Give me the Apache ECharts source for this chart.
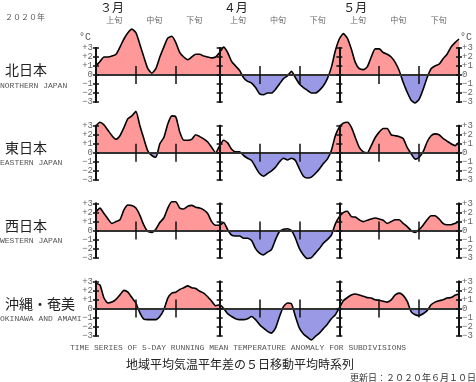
<!DOCTYPE html>
<html><head><meta charset="utf-8">
<script src="https://cdn.jsdelivr.net/npm/echarts@6/dist/echarts.min.js"></script>
<style>html,body{margin:0;padding:0;background:#fff}#c{width:476px;height:382px}</style>
</head><body><div id="c"></div>
<script>
// ---- data ----
const regionNames = ['北日本', '東日本', '西日本', '沖縄・奄美'];
const regionNamesEn = ['NORTHERN JAPAN', 'EASTERN JAPAN', 'WESTERN JAPAN', 'OKINAWA AND AMAMI'];
const monthNames = ['３月', '４月', '５月'];
const monthStarts = [0, 31, 61];            // day index (0 = Mar 1)
const decadeNames = ['上旬', '中旬', '下旬', '上旬', '中旬', '下旬', '上旬', '中旬', '下旬'];
const decadeCenters = [4.6, 14.6, 24.6, 35.6, 45.6, 55.6, 65.7, 75.8, 85.9];
const decadeTicks = [10, 20, 41, 51, 71, 81];
const yTickValues = [-3, -2, -1, 0, 1, 2, 3];
const yearLabel = '２０２０年';
const titleEn = 'TIME SERIES OF 5-DAY RUNNING MEAN TEMPERATURE ANOMALY FOR SUBDIVISIONS';
const titleJa = '地域平均気温平年差の５日移動平均時系列';
const updated = '更新日：２０２０年６月１０日';

// 5-day running mean anomaly (°C), Mar 1 .. May 31
const north = [1.0,1.5,2.0,2.0,2.1,2.3,3.1,4.0,4.7,5.1, 4.7,3.4,2.0,0.7,0.2,0.7,2.0,3.1,4.1,4.3,
  3.6,2.5,2.0,1.7,2.0,2.3,2.3,2.1,2.0,1.9, 2.0,2.5,3.1,2.5,1.5,1.0,0.5,-0.3,-0.7,-0.9,
  -1.4,-2.1,-2.2,-2.0,-2.0,-1.6,-1.0,-0.4,-0.1,0.4, -0.3,-1.0,-1.4,-1.7,-2.0,-2.0,-1.7,-1.2,-0.4,0.85,
  2.7,4.0,4.6,4.1,2.9,1.4,0.7,0.6,0.9,2.0, 2.9,2.9,2.5,2.3,2.0,1.4,0.5,-0.8,-1.9,-2.8,
  -3.1,-2.7,-1.6,-0.3,0.7,1.0,1.2,1.8,2.3,3.1, 3.6,4.0];
const east = [3.0,3.4,3.1,2.5,1.9,1.5,1.9,2.8,3.8,4.1, 4.6,3.0,1.55,0.2,-0.3,-0.5,1.0,1.7,3.2,4.1,
  4.0,2.3,1.4,1.4,1.5,2.0,1.8,1.55,1.2,0.6, 0.0,0.8,1.4,1.1,0.4,0.1,0.1,-0.3,-0.6,-0.85,
  -1.6,-2.3,-2.6,-2.3,-2.0,-1.6,-1.0,-0.6,-0.8,-0.6, -0.85,-1.8,-2.6,-2.8,-2.7,-2.3,-1.8,-1.2,-0.7,0.25,
  1.9,2.85,3.3,3.4,2.85,1.7,0.6,0.1,0.0,0.8, 1.7,2.3,2.7,2.7,2.0,1.9,1.8,1.6,0.6,-0.1,
  -0.7,-0.5,0.1,1.2,1.9,2.1,2.0,1.6,1.3,1.0, 0.8,1.2];
const west = [2.1,2.5,1.9,1.3,0.8,1.0,1.2,2.3,2.85,2.8, 2.5,1.7,0.6,-0.1,-0.2,0.15,0.9,1.4,2.5,3.2,
  3.2,2.5,2.4,2.7,2.8,2.6,2.5,2.3,1.9,1.0, 0.6,0.6,0.9,0.1,-0.5,-0.6,-0.6,-0.85,-0.85,-1.1,
  -2.0,-2.5,-2.7,-2.4,-2.1,-1.0,-0.1,0.15,0.2,0.0, -0.85,-2.0,-2.7,-3.1,-3.0,-2.5,-2.0,-1.4,-1.0,-0.5,
  0.75,1.55,2.0,2.15,1.55,1.5,1.2,1.0,1.15,1.3, 1.4,1.3,1.15,0.8,1.0,1.2,1.2,0.8,0.45,0.0,
  -0.2,0.1,0.6,1.2,1.65,1.65,1.3,0.8,0.65,0.65, 0.8,1.0];
const okinawa = [2.8,2.6,1.15,0.6,0.7,1.0,1.5,2.0,1.8,1.2, 0.6,-0.5,-1.2,-1.25,-1.25,-1.25,-0.9,-0.15,1.15,1.7,
  1.8,2.1,2.3,2.5,2.3,2.2,1.9,1.7,1.3,0.8, 0.3,0.4,0.0,-0.6,-0.9,-1.15,-1.25,-1.25,-1.15,-0.9,
  -1.25,-1.8,-2.2,-2.55,-2.75,-2.2,-0.9,0.2,0.6,0.5, -0.9,-2.2,-2.85,-3.2,-3.5,-3.1,-2.75,-2.25,-1.75,-1.15,
  -0.7,0.05,0.85,1.2,1.5,1.6,1.5,1.35,1.2,1.15, 0.95,0.9,0.8,0.7,0.95,1.5,1.7,1.45,0.8,-0.35,
  -0.7,-0.8,-0.6,-0.25,0.4,0.7,0.85,0.95,1.15,1.2, 1.45,1.6];
const regionValues = [north, east, west, okinawa];

// ---- layout / style ----
const W = 476, H = 382;
const GRID_LEFT = 96, GRID_RIGHT = 17, GRID_H = 54, GRID_TOP0 = 48, GRID_STEP = 77.8;
const plotW = W - GRID_LEFT - GRID_RIGHT;
const DAY_MAX = north.length - 1;
const POS = '#ff9999', NEG = '#9999e6';
const JA = 'Noto Sans CJK JP', MONO = 'Liberation Mono';

const yFmt = v => v > 0 ? '+' + v : (v < 0 ? '−' + (-v) : '0');

const grids = [], xAxes = [], yAxes = [], series = [], graphics = [];

function yAxis(gi, position, offset, inside, showLabel, extra) {
  return Object.assign({
    type: 'value', gridIndex: gi, min: -3, max: 3, interval: 1, position, offset, z: 5, silent: true,
    axisLine: { show: true, onZero: false, lineStyle: { color: '#111', width: 2 } },
    axisTick: { show: true, inside, length: 3, lineStyle: { color: '#111', width: 1.5 } },
    axisLabel: { show: showLabel, margin: 3, formatter: yFmt, interval: 0, customValues: yTickValues,
      showMinLabel: true, showMaxLabel: true, hideOverlap: false,
      fontFamily: MONO, fontSize: 9, lineHeight: 9, color: '#666' },
    splitLine: { show: false }
  }, extra || {});
}
function xAxis(gi, inside) {
  return {
    type: 'value', gridIndex: gi, min: 0, max: DAY_MAX, position: 'bottom', z: 5, silent: true,
    axisLine: { show: true, onZero: true, lineStyle: { color: '#333', width: 2 } },
    axisTick: { show: true, customValues: decadeTicks, inside, length: 9, lineStyle: { color: '#111', width: 1.5 } },
    axisLabel: { show: false }, splitLine: { show: false }
  };
}

regionValues.forEach((vals, i) => {
  const top = GRID_TOP0 + i * GRID_STEP;
  grids.push({ left: GRID_LEFT, right: GRID_RIGHT, top, height: GRID_H });
  const xi = xAxes.length;
  xAxes.push(xAxis(i, true), xAxis(i, false));
  const yi = yAxes.length;
  const nameL = i === 0 ? { name: '°C', nameLocation: 'end', nameGap: 6,
    nameTextStyle: { fontFamily: MONO, fontSize: 10, color: '#555', align: 'right', padding: [0, 5, 0, 0] } } : {};
  const nameR = i === 0 ? { name: '°C', nameLocation: 'end', nameGap: 6,
    nameTextStyle: { fontFamily: MONO, fontSize: 10, color: '#555', align: 'left', padding: [0, 0, 0, 1] } } : {};
  yAxes.push(yAxis(i, 'left', 0, false, true, nameL));
  yAxes.push(yAxis(i, 'left', 0, true, false));
  yAxes.push(yAxis(i, 'right', 0, false, true, nameR));
  yAxes.push(yAxis(i, 'right', 0, true, false));
  monthStarts.slice(1).forEach(m => {
    const off = -(m / DAY_MAX) * plotW;
    yAxes.push(yAxis(i, 'left', off, false, false));
    yAxes.push(yAxis(i, 'left', off, true, false));
  });
  series.push({
    type: 'line', xAxisIndex: xi, yAxisIndex: yi, data: vals.map((v, d) => [d, v]),
    showSymbol: false, symbol: 'none', smooth: 0.2, clip: false, silent: true, z: 2,
    lineStyle: { color: '#000', width: 1.6 }, areaStyle: { opacity: 1 }
  });
  const zeroY = top + GRID_H / 2;
  graphics.push({ type: 'text', x: 5, y: zeroY - 5, style: { text: regionNames[i], fontFamily: JA, fontSize: 14, fill: '#222', align: 'left', verticalAlign: 'middle' } });
  graphics.push({ type: 'text', x: 0, y: zeroY + 10.5, style: { text: regionNamesEn[i], fontFamily: MONO, fontSize: 8, fill: '#555', align: 'left', verticalAlign: 'middle' } });
});

// top label axes on the first grid
xAxes.push({
  type: 'value', gridIndex: 0, min: 0, max: DAY_MAX, position: 'top', silent: true,
  axisLine: { show: false, onZero: false }, axisTick: { show: false }, splitLine: { show: false },
  axisLabel: { show: true, customValues: monthStarts, showMinLabel: true, showMaxLabel: true,
    formatter: v => monthNames[monthStarts.indexOf(v)], margin: 35, align: 'left', padding: [0, 0, 0, 4],
    fontFamily: JA, fontSize: 12, color: '#222' }
});
xAxes.push({
  type: 'value', gridIndex: 0, min: 0, max: DAY_MAX, position: 'top', silent: true,
  axisLine: { show: false, onZero: false }, axisTick: { show: false }, splitLine: { show: false },
  axisLabel: { show: true, customValues: decadeCenters, showMinLabel: true, showMaxLabel: true,
    formatter: v => decadeNames[decadeCenters.indexOf(v)], margin: 24,
    fontFamily: JA, fontSize: 8, color: '#666' }
});

graphics.push({ type: 'text', x: 5, y: 16.5, style: { text: yearLabel, fontFamily: JA, fontSize: 8, fill: '#555', align: 'left', verticalAlign: 'middle' } });
graphics.push({ type: 'text', x: 238, y: 347.5, style: { text: titleEn, fontFamily: MONO, fontSize: 8, fill: '#555', align: 'center', verticalAlign: 'middle' } });
graphics.push({ type: 'text', x: 240, y: 364.5, style: { text: titleJa, fontFamily: JA, fontSize: 12, fill: '#222', align: 'center', verticalAlign: 'middle' } });
graphics.push({ type: 'text', x: 476, y: 378, style: { text: updated, fontFamily: JA, fontSize: 9, fill: '#333', align: 'right', verticalAlign: 'middle' } });

const chart = echarts.init(document.getElementById('c'), null, { renderer: 'canvas', width: W, height: H });
chart.setOption({
  animation: false,
  backgroundColor: '#fff',
  grid: grids, xAxis: xAxes, yAxis: yAxes, series,
  visualMap: {
    type: 'piecewise', show: false, dimension: 1, seriesIndex: [0, 1, 2, 3],
    pieces: [{ min: -20, max: 0, color: NEG }, { min: 0, max: 20, color: POS }]
  },
  graphic: graphics
});
</script></body></html>
